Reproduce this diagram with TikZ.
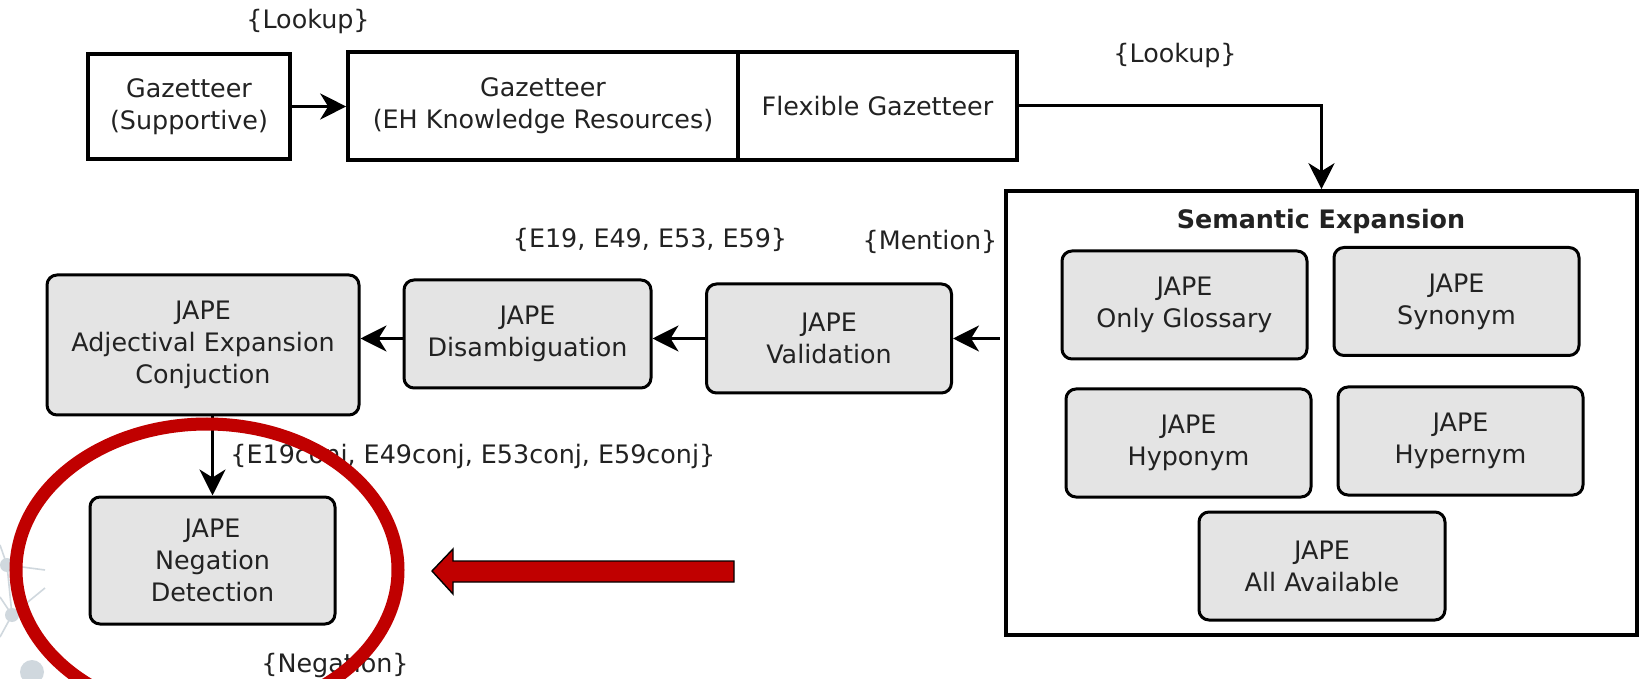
\documentclass[tikz,border=0pt]{standalone}
\usepackage{fontspec}
\setmainfont{DejaVu Sans}
\usetikzlibrary{arrows.meta,calc}
\definecolor{boxgray}{RGB}{228,228,228}
\definecolor{txtgray}{RGB}{34,34,34}
\definecolor{alertred}{RGB}{192,0,0}
\definecolor{netgray}{RGB}{208,216,222}

\begin{document}
\begin{tikzpicture}[x=0.5pt,y=-0.5pt,
  every node/.style={font=\fontsize{12.7}{16}\selectfont, text=txtgray, align=center, inner sep=0pt},
  plainbox/.style={draw=black, line width=1.8pt, fill=white, minimum height=54pt},
  japebox/.style={draw=black, line width=1.5pt, fill=boxgray, rounded corners=5pt,
                  minimum width=122.5pt, minimum height=54pt},
  flowlabel/.style={},
  arr/.style={draw=black, line width=1.5pt, -{Stealth[length=13pt,width=13pt,inset=4pt]}},
  net/.style={draw=netgray, line width=0.8pt},
]
\clip (0,0) rectangle (1640,679);
\fill[white] (0,0) rectangle (1640,679);

% faint network ornament, lower left
\draw[net] (0,545) -- (7,565) -- (45,570);
\draw[net] (7,565) -- (12,615);
\draw[net] (0,597) -- (12,615) -- (45,588);
\draw[net] (12,615) -- (0,637);
\fill[netgray] (7,565) circle (3.5pt);
\fill[netgray] (12,615) circle (3.5pt);
\fill[netgray] (32,672) circle (6pt);

% gazetteer stage
\node[plainbox, minimum width=101pt, minimum height=52.5pt] (sup) at (189,106.5)
  {Gazetteer\\(Supportive)};
\node[plainbox, minimum width=195pt] (ehk) at (543,106)
  {Gazetteer\\(EH Knowledge Resources)};
\node[plainbox, minimum width=139.5pt] (flex) at (877.5,106) {Flexible Gazetteer};
\node[flowlabel] (lk1) at (308,21) {\{Lookup\}};
\node[flowlabel] (lk2) at (1175,55) {\{Lookup\}};

% semantic expansion group
\node[draw=black, line width=1.8pt, fill=white, minimum width=315.5pt, minimum height=222pt]
  (sem) at (1321.5,413) {};
\node (semtitle) at (1321,221) {\bfseries Semantic Expansion};
\node[japebox] (glos)  at (1184.5,305)   {JAPE\\Only Glossary};
\node[japebox] (syn)   at (1456.5,301.5) {JAPE\\Synonym};
\node[japebox] (hypo)  at (1188.5,443)   {JAPE\\Hyponym};
\node[japebox] (hyper) at (1460.5,441)   {JAPE\\Hypernym};
\node[japebox, minimum width=123pt] (allav) at (1322,566) {JAPE\\All Available};

% JAPE pipeline
\node[japebox, minimum height=54.5pt] (val) at (829,338.5) {JAPE\\Validation};
\node[japebox, minimum width=123.5pt] (dis) at (527.5,334) {JAPE\\Disambiguation};
\node[japebox, minimum width=156pt, minimum height=70pt] (adj) at (203,345)
  {JAPE\\Adjectival Expansion\\Conjuction};
\node[japebox, minimum height=63.5pt] (neg) at (212.5,560.5) {JAPE\\Negation\\Detection};

\node[flowlabel] (mention) at (930,242) {\{Mention\}};
\node[flowlabel] (ecodes) at (650,240) {\{E19, E49, E53, E59\}};
\node[flowlabel, anchor=west] (conj) at (230,456) {\{E19conj, E49conj, E53conj, E59conj\}};
\node[flowlabel] (negtag) at (335,665) {\{Negation\}};

% connectors
\draw[arr] (sup.east) -- (ehk.west |- sup.east);
\draw[arr] (flex.east) -| (sem.north);
\draw[arr] ([xshift=-2pt]sem.west |- val.east) -- (val.east);
\draw[arr] (val.west) -- (val.west -| dis.east);
\draw[arr] (dis.west |- val.west) -- (adj.east |- val.west);
\draw[arr] (neg.north |- adj.south) -- (neg.north);

% highlight
\draw[alertred, line width=6.5pt] (207,570) ellipse [x radius=95.5pt, y radius=73pt];
\draw[fill=alertred, draw=black, line width=0.7pt]
  (432,571) -- (453,549) -- (453,561) -- (734,561) -- (734,582) -- (453,582) -- (453,594) -- cycle;
\end{tikzpicture}
\end{document}
